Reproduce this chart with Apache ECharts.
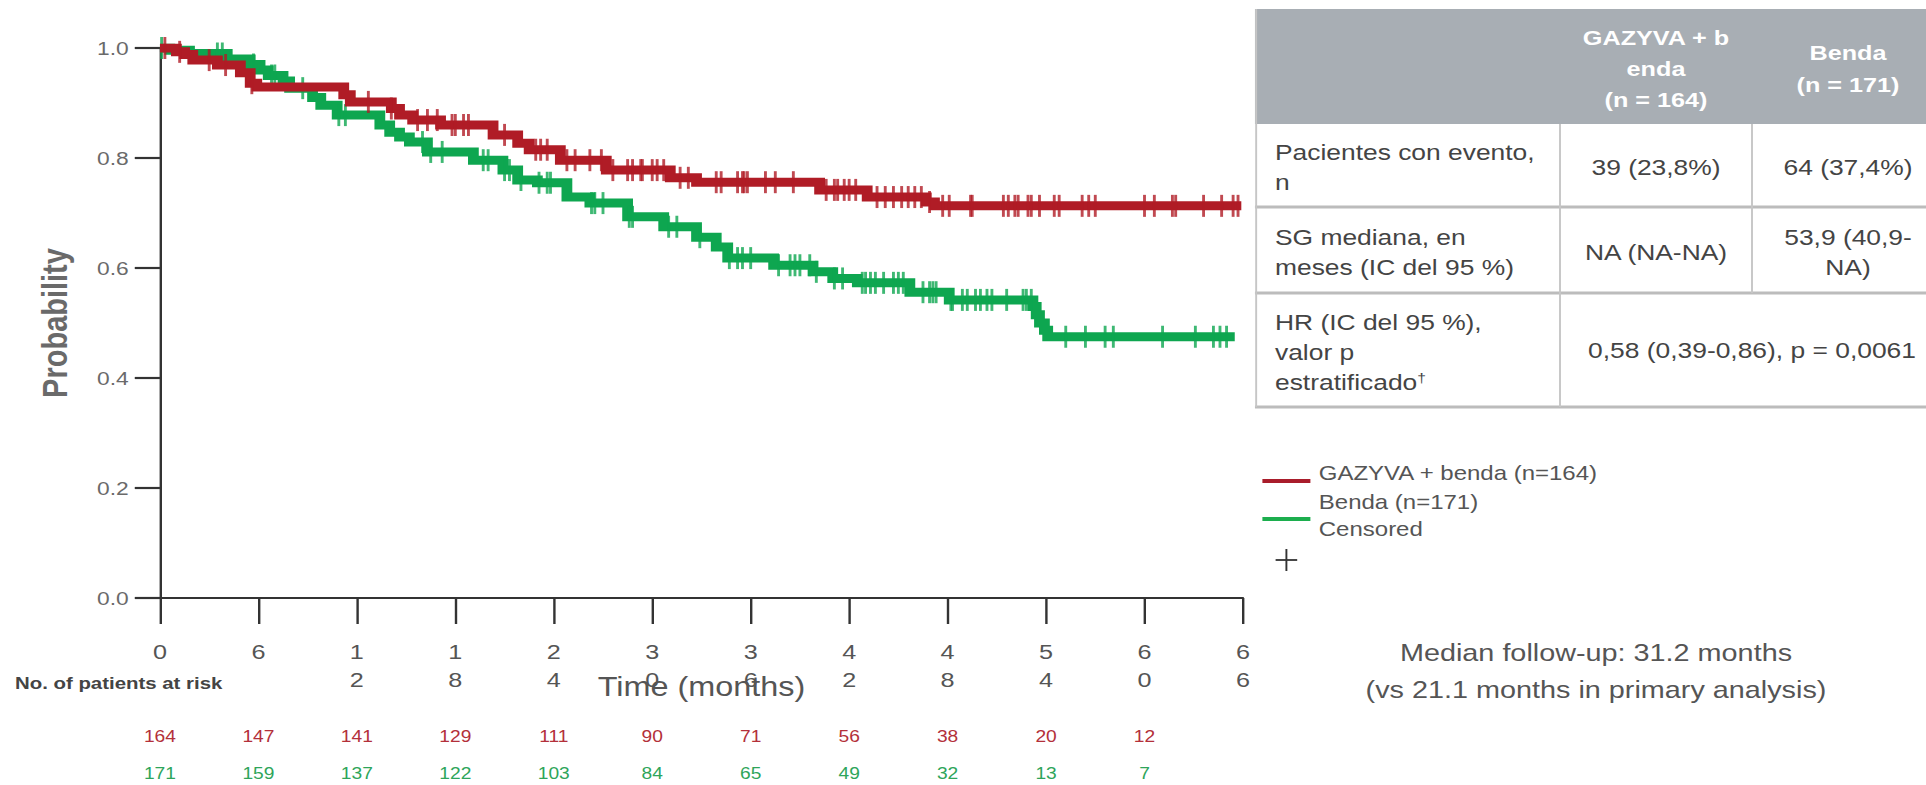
<!DOCTYPE html>
<html><head><meta charset="utf-8">
<script src="https://cdn.jsdelivr.net/npm/echarts@6/dist/echarts.min.js"></script>
<style>
html,body{margin:0;padding:0;background:#fff;overflow:hidden;}
#wrap{width:1926px;height:785px;overflow:hidden;position:relative;background:#fff;}
#chart{width:1605px;height:785px;transform:scaleX(1.2);transform-origin:0 0;}
</style></head><body>
<div id="wrap"><div id="chart"></div></div>
<script>
// ---- data ----
const xTicks = [0, 6, 12, 18, 24, 30, 36, 42, 48, 54, 60, 66];
const yTicks = [0, 0.2, 0.4, 0.6, 0.8, 1.0];

const redTimes = [0, 1.0, 1.5, 2.0, 3.5, 4.9, 5.5, 5.9, 11.2, 11.6, 14.1, 14.6, 15.4, 17.1, 20.3, 21.8, 22.5, 24.4, 27.2, 31.1, 32.7, 40.2, 43.1, 46.7, 47.2, 65.9];
const redSurv  = [1.0, 0.993, 0.988, 0.978, 0.969, 0.955, 0.936, 0.929, 0.915, 0.902, 0.89, 0.878, 0.869, 0.86, 0.842, 0.827, 0.815, 0.796, 0.778, 0.764, 0.756, 0.742, 0.729, 0.72, 0.713, 0.713];

const greenTimes = [0, 0.6, 1.8, 4.1, 5.5, 6.1, 6.6, 7.5, 7.9, 9.3, 9.8, 10.8, 13.4, 14.0, 14.6, 15.2, 16.3, 19.1, 20.9, 21.8, 23.0, 24.8, 26.2, 28.5, 30.7, 32.7, 33.9, 34.6, 37.4, 39.8, 41.0, 42.5, 45.7, 48.1, 53.2, 53.4, 53.6, 53.9, 54.1, 65.5];
const greenSurv  = [1.0, 0.996, 0.99, 0.98, 0.97, 0.96, 0.95, 0.94, 0.927, 0.91, 0.896, 0.878, 0.86, 0.847, 0.838, 0.829, 0.811, 0.796, 0.778, 0.76, 0.755, 0.729, 0.718, 0.693, 0.675, 0.656, 0.638, 0.618, 0.605, 0.593, 0.581, 0.573, 0.556, 0.542, 0.53, 0.515, 0.50, 0.487, 0.475, 0.475];

const redCensor = [0.3, 1.2, 3.0, 4.0, 5.6, 12.7, 14.1, 15.7, 16.3, 16.9, 17.8, 18.0, 18.5, 18.8, 21.0, 22.9, 23.2, 23.6, 24.8, 25.3, 26.2, 26.9, 27.6, 28.5, 28.8, 29.3, 29.4, 30.0, 30.3, 30.7, 31.7, 32.2, 33.9, 34.2, 35.2, 35.5, 35.6, 35.8, 36.9, 37.5, 38.6, 40.6, 41.1, 41.3, 41.7, 42.0, 42.4, 43.7, 44.2, 44.7, 45.2, 45.6, 46.0, 46.4, 46.9, 47.7, 48.1, 49.4, 49.5, 51.4, 51.7, 52.1, 52.3, 52.9, 53.1, 53.6, 54.5, 54.8, 56.2, 56.6, 57.0, 60.0, 60.6, 61.7, 61.9, 63.6, 64.7, 65.4, 65.7];
const greenCensor = [0.1, 3.5, 3.8, 5.7, 6.8, 7.0, 8.7, 10.9, 11.3, 16.0, 16.5, 17.2, 19.7, 20.0, 21.0, 21.3, 22.0, 23.1, 23.6, 23.8, 26.3, 26.5, 27.0, 28.6, 28.8, 31.0, 31.5, 32.9, 34.7, 35.2, 35.5, 36.0, 37.7, 38.4, 38.7, 39.0, 39.6, 40.0, 41.1, 41.6, 42.8, 43.0, 43.3, 43.6, 44.1, 44.7, 45.0, 45.3, 46.5, 46.9, 47.1, 47.3, 48.2, 48.3, 48.9, 49.2, 49.7, 50.0, 50.4, 50.7, 51.6, 52.6, 52.8, 53.1, 55.2, 56.4, 57.6, 58.1, 61.1, 63.1, 64.2, 64.6, 65.0];

const riskTimes = [0, 6, 12, 18, 24, 30, 36, 42, 48, 54, 60];
const riskRed   = [164, 147, 141, 129, 111, 90, 71, 56, 38, 20, 12];
const riskGreen = [171, 159, 137, 122, 103, 84, 65, 49, 32, 13, 7];

const seriesNames = ['GAZYVA + benda (n=164)', 'Benda (n=171)'];

// ---- styles ----
const FONT = "'Liberation Sans', Arial, Helvetica, sans-serif";
const RED = '#b01c26';
const GREEN = '#0ea650';

function survAt(times, surv, t) {
  let v = surv[0];
  for (let i = 0; i < times.length; i++) { if (times[i] <= t) v = surv[i]; else break; }
  return v;
}
const zip = (a, b) => a.map((v, i) => [v, b[i]]);

const chart = echarts.init(document.getElementById('chart'), null, { renderer: 'svg' });

const option = {
  animation: false,
  backgroundColor: '#fff',
  grid: { left: 133.3, right: 569.2, top: 48, bottom: 187, outerBoundsMode: 'none' },
  xAxis: {
    type: 'value', min: xTicks[0], max: xTicks[xTicks.length - 1], interval: 6,
    name: 'Time (months)', nameLocation: 'middle', nameGap: 75, nameMoveOverlap: false,
    nameTextStyle: { fontFamily: FONT, fontSize: 27, color: '#555' },
    axisLine: { show: true, lineStyle: { color: '#333', width: 2 } },
    axisTick: { show: true, length: 26, lineStyle: { color: '#333', width: 2 } },
    axisLabel: {
      fontFamily: FONT, fontSize: 21, color: '#555', margin: 40, lineHeight: 28,
      formatter: v => String(v).split('').join('\n')
    },
    splitLine: { show: false }
  },
  yAxis: {
    type: 'value', min: yTicks[0], max: yTicks[yTicks.length - 1], interval: 0.2,
    name: 'Probability', nameLocation: 'middle', nameGap: 73, nameMoveOverlap: false,
    nameTextStyle: { fontFamily: FONT, fontSize: 29, fontWeight: 'bold', color: '#6a6a6a' },
    axisLine: { show: true, lineStyle: { color: '#333', width: 2 } },
    axisTick: { show: true, length: 21, lineStyle: { color: '#333', width: 2.2 } },
    axisLabel: { fontFamily: FONT, fontSize: 19, color: '#6a6a6a', margin: 26, formatter: v => v.toFixed(1) },
    splitLine: { show: false }
  },
  series: [
    {
      name: seriesNames[1], type: 'line', step: 'end', symbol: 'none',
      data: zip(greenTimes, greenSurv),
      lineStyle: { color: GREEN, width: 9, cap: 'butt', join: 'miter' }, z: 2
    },
    {
      name: seriesNames[1] + ' censored', type: 'scatter', symbol: 'rect', symbolSize: [2.4, 22],
      data: greenCensor.map(t => [t, survAt(greenTimes, greenSurv, t)]),
      itemStyle: { color: GREEN }, z: 3
    },
    {
      name: seriesNames[0], type: 'line', step: 'end', symbol: 'none',
      data: zip(redTimes, redSurv),
      lineStyle: { color: RED, width: 9, cap: 'butt', join: 'miter' }, z: 4
    },
    {
      name: seriesNames[0] + ' censored', type: 'scatter', symbol: 'rect', symbolSize: [2.4, 22],
      data: redCensor.map(t => [t, survAt(redTimes, redSurv, t)]),
      itemStyle: { color: RED }, z: 5
    }
  ]
};
chart.setOption(option);

// ---- graphic overlay: risk table, legend, summary table, note ----
const g = [];
function txt(x, y, text, o) {
  o = o || {};
  g.push({
    type: 'text', x: x, y: y, z: 10, silent: true,
    style: {
      text: text, fill: o.fill || '#444', fontFamily: FONT, fontSize: o.size || 22,
      fontWeight: o.weight || 'normal', align: o.align || 'left', verticalAlign: 'middle',
      rich: o.rich
    }
  });
}
function line(x1, y1, x2, y2, stroke, w) {
  g.push({ type: 'line', z: 9, silent: true, shape: { x1, y1, x2, y2 }, style: { stroke, lineWidth: w } });
}

// risk table
txt(12.5, 683, 'No. of patients at risk', { size: 17, weight: 'bold', fill: '#444' });
riskTimes.forEach((t, i) => {
  const px = chart.convertToPixel({ xAxisIndex: 0 }, t);
  txt(px, 737, String(riskRed[i]), { size: 16, fill: '#b3303a', align: 'center' });
  txt(px, 774, String(riskGreen[i]), { size: 16, fill: '#2ea55a', align: 'center' });
});

// summary table
const TL = 1045.8, C1 = 1300, C2 = 1460, TR = 1625;
g.push({ type: 'rect', z: 8, silent: true, shape: { x: TL, y: 9, width: TR - TL, height: 115 }, style: { fill: '#a8aeb4' } });
line(TL, 207, TR, 207, '#bcbcbc', 3);
line(TL, 293, TR, 293, '#bcbcbc', 3);
line(TL, 407, TR, 407, '#bcbcbc', 3);
line(TL + 1, 9, TL + 1, 407, '#c6c6c6', 1.6);
line(C1, 124, C1, 407, '#c6c6c6', 1.6);
line(C2, 124, C2, 293, '#c6c6c6', 1.6);

const hdr = { size: 21, weight: 'bold', fill: '#ffffff', align: 'center' };
txt(1380, 38, 'GAZYVA + b', hdr);
txt(1380, 69, 'enda', hdr);
txt(1380, 100, '(n = 164)', hdr);
txt(1540, 53, 'Benda', hdr);
txt(1540, 85, '(n = 171)', hdr);

const LX = 1062.5;
txt(LX, 152, 'Pacientes con evento,');
txt(LX, 182, 'n');
txt(LX, 237, 'SG mediana, en');
txt(LX, 267, 'meses (IC del 95 %)');
txt(LX, 322, 'HR (IC del 95 %),');
txt(LX, 352, 'valor p');
txt(LX, 382, 'estratificado{s|\u2020}', { rich: { s: { fontFamily: FONT, fontSize: 13, fill: '#444', verticalAlign: 'top', padding: [0, 0, 8, 0] } } });

const ctr = { align: 'center' };
txt(1380, 167, '39 (23,8%)', ctr);
txt(1540, 167, '64 (37,4%)', ctr);
txt(1380, 252, 'NA (NA-NA)', ctr);
txt(1540, 237, '53,9 (40,9-', ctr);
txt(1540, 267, 'NA)', ctr);
txt(1460, 350, '0,58 (0,39-0,86), p = 0,0061', ctr);

// legend
line(1052, 481, 1092, 481, '#a91d2b', 4);
line(1052, 519, 1092, 519, '#1cae4e', 4);
txt(1099, 473, seriesNames[0], { size: 20, fill: '#555' });
txt(1099, 502, seriesNames[1], { size: 20, fill: '#555' });
txt(1099, 529, 'Censored', { size: 20, fill: '#555' });
line(1063, 560, 1081, 560, '#333', 1.8);
line(1072, 549, 1072, 571, '#333', 1.6);

// note
txt(1330, 653, 'Median follow-up: 31.2 months', { size: 24, fill: '#555', align: 'center' });
txt(1330, 690, '(vs 21.1 months in primary analysis)', { size: 24, fill: '#555', align: 'center' });

chart.setOption({ graphic: g });
</script>
</body></html>
